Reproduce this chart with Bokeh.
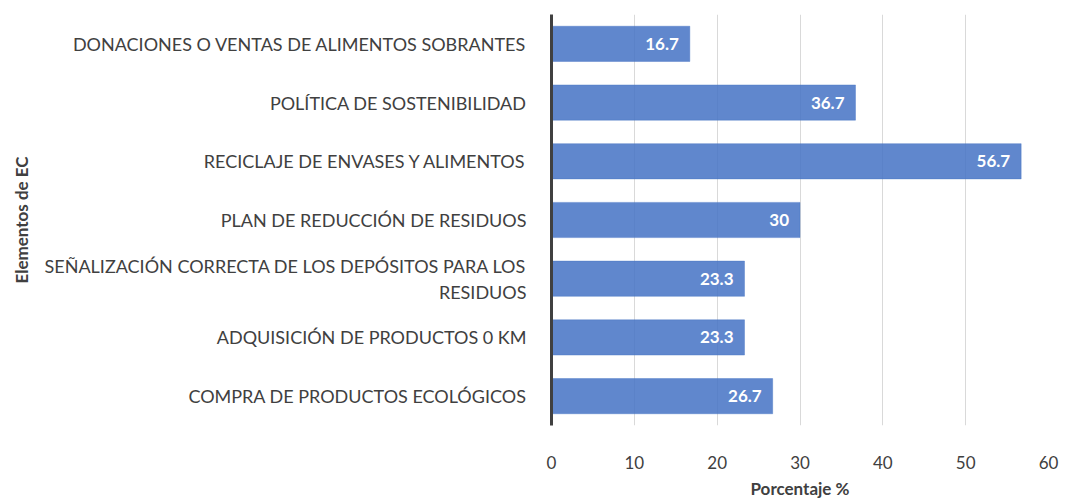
from bokeh.plotting import figure
from bokeh.models import ColumnDataSource, LabelSet, Range1d, FactorRange, FixedTicker
from bokeh.core.properties import value
from bokeh.embed import file_html
from bokeh.resources import INLINE

categories = [
    "DONACIONES O VENTAS DE ALIMENTOS SOBRANTES",
    "POLÍTICA DE SOSTENIBILIDAD",
    "RECICLAJE DE ENVASES Y ALIMENTOS",
    "PLAN DE REDUCCIÓN DE RESIDUOS",
    "SEÑALIZACIÓN CORRECTA DE LOS DEPÓSITOS PARA LOS\nRESIDUOS",
    "ADQUISICIÓN DE PRODUCTOS 0 KM",
    "COMPRA DE PRODUCTOS ECOLÓGICOS",
]
values = [16.7, 36.7, 56.7, 30, 23.3, 23.3, 26.7]
value_labels = ["16.7", "36.7", "56.7", "30", "23.3", "23.3", "26.7"]
x_ticks = [0, 10, 20, 30, 40, 50, 60]

FONT = "Lato"
TXT = "#404040"

src = ColumnDataSource(dict(cat=categories, val=values, lab=value_labels))

p = figure(
    y_range=FactorRange(*list(reversed(categories)), range_padding=0),
    x_range=Range1d(0, 60),
    frame_width=497, frame_height=411,
    min_border_left=551, min_border_right=14, min_border_top=14, min_border_bottom=58,
    output_backend="svg", toolbar_location=None,
)
p.outline_line_color = None

p.hbar(y="cat", right="val", left=0, height=0.6, source=src,
       fill_color="#4472C4", fill_alpha=0.85, line_color="#4472C4", line_alpha=0.4)

p.add_layout(LabelSet(x="val", y="cat", text="lab", source=src, x_offset=-11,
                      text_align="right", text_baseline="middle",
                      text_color="white", text_font_style="bold",
                      text_font_size="17px", text_font=value(FONT)))

p.xaxis.ticker = FixedTicker(ticks=x_ticks)
p.xaxis.axis_line_color = None
p.xaxis.major_tick_line_color = None
p.xaxis.minor_tick_line_color = None
p.xaxis.major_label_standoff = 24
p.xaxis.major_label_text_font = FONT
p.xaxis.major_label_text_font_size = "17px"
p.xaxis.major_label_text_color = TXT
p.xaxis.axis_label = "Porcentaje %"
p.xaxis.axis_label_text_font = FONT
p.xaxis.axis_label_text_font_size = "17px"
p.xaxis.axis_label_text_font_style = "bold"
p.xaxis.axis_label_text_color = TXT
p.xaxis.axis_label_standoff = 6

p.yaxis.axis_line_color = "#404040"
p.yaxis.axis_line_width = 3
p.yaxis.major_tick_line_color = None
p.yaxis.minor_tick_line_color = None
p.yaxis.major_label_standoff = 19
p.yaxis.major_label_text_font = FONT
p.yaxis.major_label_text_font_size = "18px"
p.yaxis.major_label_text_color = TXT
p.yaxis.axis_label = "Elementos de EC"
p.yaxis.axis_label_text_font = FONT
p.yaxis.axis_label_text_font_size = "17px"
p.yaxis.axis_label_text_font_style = "bold"
p.yaxis.axis_label_text_color = TXT
p.yaxis.axis_label_standoff = 10

p.ygrid.grid_line_color = None
p.xgrid.grid_line_color = "#d9d9d9"
p.xgrid.grid_line_width = 1

open("out.html", "w").write(file_html(p, INLINE))
